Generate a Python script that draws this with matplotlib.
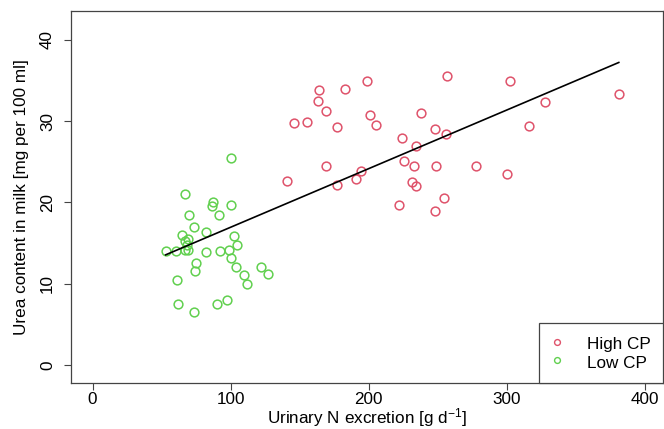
import matplotlib
matplotlib.use("Agg")
import matplotlib.pyplot as plt
import numpy as np

plt.rcParams['font.family'] = ['Liberation Sans', 'DejaVu Sans']
plt.rcParams['mathtext.fontset'] = 'custom'
plt.rcParams['mathtext.rm'] = 'Liberation Sans'
plt.rcParams['mathtext.it'] = 'Liberation Sans:italic'

# High CP group
high_x = [140.6, 145.9, 155.5, 163.1, 164.2, 168.9, 169.1, 176.8, 176.8, 183.1,
          190.8, 194.6, 199.0, 200.9, 205.5, 221.6, 223.9, 225.6, 231.0, 232.4,
          234.0, 234.3, 238.1, 248.2, 248.5, 248.0, 254.7, 256.0, 256.5, 277.7,
          299.9, 302.1, 315.7, 327.9, 381.0]
high_y = [22.6, 29.8, 29.9, 32.5, 33.8, 31.2, 24.5, 29.3, 22.2, 33.9,
          22.9, 23.9, 34.9, 30.8, 29.5, 19.7, 27.9, 25.1, 22.5, 24.5,
          27.0, 22.0, 31.0, 29.0, 24.5, 19.0, 20.5, 28.4, 35.6, 24.5,
          23.5, 34.9, 29.4, 32.3, 33.4]

# Low CP group
low_x = [52.9, 60.2, 61.4, 61.7, 65.0, 67.0, 67.0, 68.2, 67.0, 69.4,
         69.4, 70.1, 73.5, 73.5, 74.6, 74.4, 82.2, 82.2, 86.5, 87.5,
         91.8, 92.3, 90.2, 97.6, 98.5, 100.3, 100.5, 102.1, 100.1, 104.4,
         103.7, 109.9, 112.1, 122.2, 127.1]
low_y = [14.0, 14.0, 10.5, 7.5, 16.0, 15.3, 21.0, 14.8, 14.1, 15.5,
         14.1, 18.5, 17.0, 6.5, 12.5, 11.5, 16.4, 13.9, 19.5, 20.0,
         18.4, 14.0, 7.5, 8.0, 14.1, 25.5, 19.7, 15.9, 13.2, 14.7,
         12.0, 11.1, 10.0, 12.0, 11.2]

# Fitted regression line over all data
fit_intercept = 9.72
fit_slope = 0.0722

labels = ["High CP", "Low CP"]
red = "#DF536B"
green = "#61D04F"

fig = plt.figure(figsize=(6.64, 4.29), dpi=100)
ax = fig.add_axes([0.1065, 0.108, 0.892, 0.867])

ms = 6.3
ax.plot(high_x, high_y, linestyle='none', marker='o', markersize=ms,
        markerfacecolor='none', markeredgecolor=red, markeredgewidth=1.1,
        label=labels[0])
ax.plot(low_x, low_y, linestyle='none', marker='o', markersize=ms,
        markerfacecolor='none', markeredgecolor=green, markeredgewidth=1.1,
        label=labels[1])

allx = np.array(high_x + low_x)
lx = np.array([allx.min(), allx.max()])
ax.plot(lx, fit_intercept + fit_slope * lx, color='black', lw=1.2)

ax.set_xlim(-15.8, 413)
ax.set_ylim(-2.2, 43.6)
ax.set_xticks([0, 100, 200, 300, 400])
ax.set_yticks([0, 10, 20, 30, 40])

fs = 12.3
for s in ax.spines.values():
    s.set_color('#444444')
    s.set_linewidth(0.9)
ax.tick_params(axis='both', direction='out', length=5.3, width=0.8,
               color='#444444', labelsize=fs)
ax.tick_params(axis='x', pad=1.5)
ax.tick_params(axis='y', pad=6)
for t in ax.get_yticklabels():
    t.set_rotation(90)
    t.set_va('center')

ax.set_xlabel("Urinary N excretion [g d$^{\\mathregular{-1}}$]", fontsize=fs, labelpad=-1)
ax.set_ylabel("Urea content in milk [mg per 100 ml]", fontsize=fs, labelpad=8)

leg = ax.legend(handles=[
    plt.Line2D([], [], linestyle='none', marker='o', markersize=4.2,
               markerfacecolor='none', markeredgecolor=red, markeredgewidth=1.0),
    plt.Line2D([], [], linestyle='none', marker='o', markersize=4.2,
               markerfacecolor='none', markeredgecolor=green, markeredgewidth=1.0)],
    labels=labels, loc='lower right', borderaxespad=0, fancybox=False,
    fontsize=fs, borderpad=0.7, labelspacing=0.05, handlelength=0.8,
    handleheight=1.2, handletextpad=1.35, framealpha=1)
leg.get_frame().set_edgecolor('#444444')
leg.get_frame().set_linewidth(0.9)

fig.savefig("out.png", dpi=100)
